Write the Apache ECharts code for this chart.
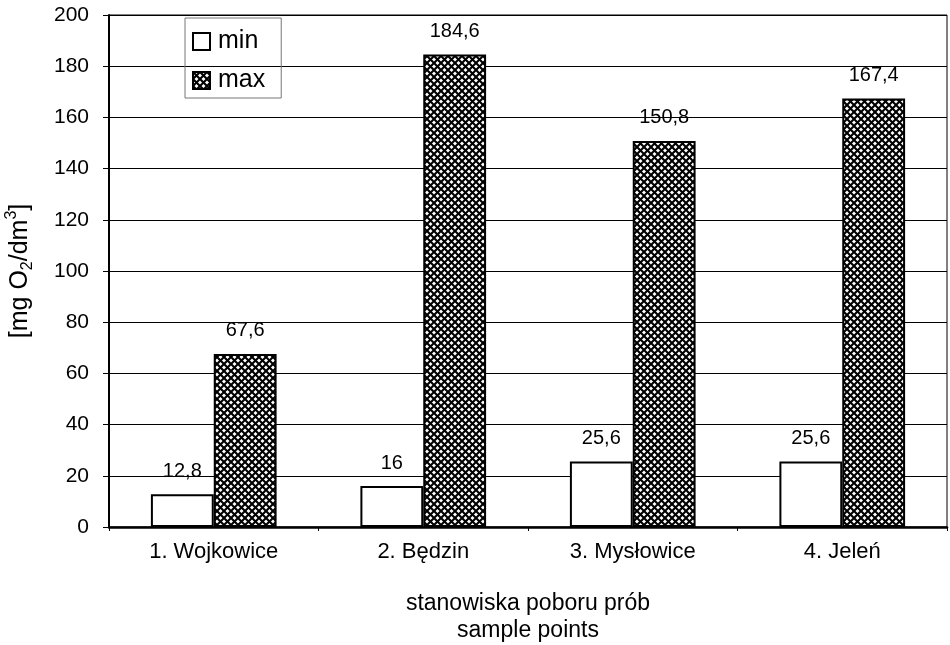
<!DOCTYPE html>
<html>
<head>
<meta charset="utf-8">
<script src="https://cdn.jsdelivr.net/npm/echarts@6/dist/echarts.min.js"></script>
<style>
  html, body { margin: 0; padding: 0; background: #fff; }
  #chart { width: 950px; height: 645px; }
</style>
</head>
<body>
<div id="chart"></div>
<script>
// Sampling sites and COD values [mg O2/dm3]
var categories = ['1. Wojkowice', '2. Będzin', '3. Mysłowice', '4. Jeleń'];
var minValues = [12.8, 16, 25.6, 25.6];
var maxValues = [67.6, 184.6, 150.8, 167.4];
var seriesNames = ['min', 'max'];

// Cross-hatch fill for the "max" bars
function makeHatch() {
  var s = 7;
  var c = document.createElement('canvas');
  c.width = s; c.height = s;
  var g = c.getContext('2d');
  g.fillStyle = '#ffffff';
  g.fillRect(0, 0, s, s);
  g.strokeStyle = '#000000';
  g.lineWidth = 2.1;
  g.beginPath();
  g.moveTo(-1, -1); g.lineTo(s + 1, s + 1);
  g.moveTo(s + 1, -1); g.lineTo(-1, s + 1);
  g.stroke();
  return c;
}

var commaFmt = function (p) { return String(p.value).replace('.', ','); };
var font = 'Liberation Sans, Arial, sans-serif';

var chart = echarts.init(document.getElementById('chart'), null, { renderer: 'canvas' });
chart.setOption({
  backgroundColor: '#ffffff',
  animation: false,
  grid: {
    left: 109, right: 3, top: 15, bottom: 118,
    outerBoundsMode: 'none',
    containLabel: false,
    show: true, borderColor: '#000', borderWidth: 1
  },
  legend: {
    data: seriesNames,
    icon: 'rect',
    orient: 'vertical',
    left: 185, top: 18,
    itemWidth: 17, itemHeight: 17, itemGap: 14,
    padding: [11, 16, 5, 7],
    borderColor: '#777', borderWidth: 1,
    textStyle: { fontFamily: font, fontSize: 25, color: '#000', padding: [0, 0, 0, 3] }
  },
  xAxis: {
    type: 'category',
    data: categories,
    name: 'stanowiska poboru prób\nsample points',
    nameLocation: 'middle',
    nameGap: 63,
    nameTextStyle: { fontFamily: font, fontSize: 23, color: '#000', lineHeight: 27 },
    axisLine: { lineStyle: { color: '#000', width: 2.5 } },
    axisTick: { show: true, length: 4, lineStyle: { color: '#000' } },
    axisLabel: { fontFamily: font, fontSize: 22, color: '#000', margin: 14 }
  },
  yAxis: {
    type: 'value',
    min: 0, max: 200, interval: 20,
    name: '{a|[mg O}{sub|2}{a|/dm}{sup|3}{a|]}',
    nameLocation: 'middle',
    nameRotate: 90,
    nameGap: 73,
    nameTextStyle: {
      rich: {
        a: { fontFamily: font, fontSize: 25, color: '#000', lineHeight: 32, verticalAlign: 'middle' },
        sub: { fontFamily: font, fontSize: 16, color: '#000', lineHeight: 32, verticalAlign: 'bottom' },
        sup: { fontFamily: font, fontSize: 16, color: '#000', lineHeight: 32, verticalAlign: 'top' }
      }
    },
    axisLine: { show: true, lineStyle: { color: '#000', width: 2 } },
    axisTick: { show: true, length: 6, lineStyle: { color: '#000' } },
    axisLabel: { fontFamily: font, fontSize: 21, color: '#000', margin: 20 },
    splitLine: { show: true, lineStyle: { color: '#000', width: 1 } }
  },
  series: [
    {
      name: seriesNames[0],
      type: 'bar',
      data: minValues,
      barGap: '0%',
      barCategoryGap: '40%',
      itemStyle: { color: '#ffffff', borderColor: '#000', borderWidth: 2 },
      label: {
        show: true, position: 'top', distance: 13,
        formatter: commaFmt,
        fontFamily: font, fontSize: 20, color: '#000'
      }
    },
    {
      name: seriesNames[1],
      type: 'bar',
      data: maxValues,
      barGap: '0%',
      barCategoryGap: '40%',
      itemStyle: {
        color: { image: makeHatch(), repeat: 'repeat' },
        borderColor: '#000', borderWidth: 2
      },
      label: {
        show: true, position: 'top', distance: 13,
        formatter: commaFmt,
        fontFamily: font, fontSize: 20, color: '#000'
      }
    }
  ]
});
</script>
</body>
</html>
